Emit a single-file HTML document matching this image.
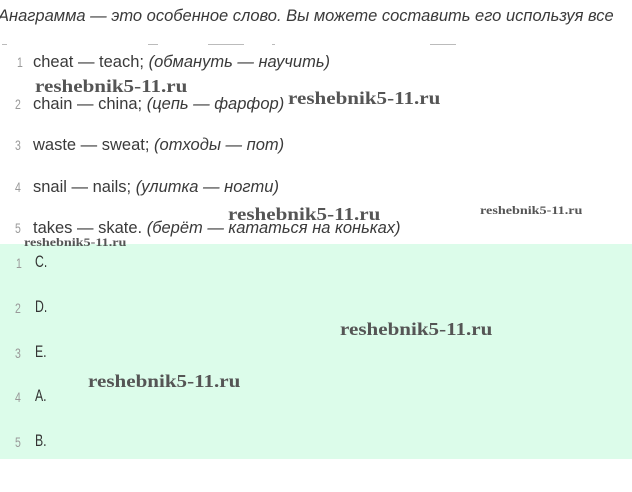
<!DOCTYPE html>
<html><head><meta charset="utf-8"><style>
html,body{margin:0;padding:0;width:632px;height:492px;background:#fff;overflow:hidden;position:relative;font-family:"Liberation Sans",sans-serif;}
.t{position:absolute;white-space:nowrap;color:#3a3a3a;font-size:16.5px;line-height:18px;}
.n{position:absolute;color:#999;font-size:14px;line-height:18px;transform:scaleX(0.75);transform-origin:left;}
i{font-style:italic}
.w{position:absolute;white-space:nowrap;font-family:"Liberation Serif",serif;font-weight:bold;color:#555;font-size:18px;line-height:18px;transform:scaleX(1.17);transform-origin:left;}
.ws{position:absolute;white-space:nowrap;font-family:"Liberation Serif",serif;font-weight:bold;color:#555;font-size:12px;line-height:12px;transform:scaleX(1.18);transform-origin:left;}
.g{position:absolute;left:0;top:244px;width:632px;height:215px;background:#dcfcea;}
.a{position:absolute;color:#333;font-size:17px;line-height:18px;transform:scaleX(0.72);transform-origin:left;}
.d{position:absolute;top:44px;height:1px;background:#bbb;}
</style></head><body>
<div class="t" style="left:-2px;top:7px;font-style:italic;font-size:16.5px">Анаграмма — это особенное слово. Вы можете составить его используя все</div>
<div class="d" style="left:2px;width:5px"></div>
<div class="d" style="left:148px;width:10px"></div>
<div class="d" style="left:208px;width:36px"></div>
<div class="d" style="left:272px;width:3px"></div>
<div class="d" style="left:430px;width:26px"></div>
<div class="n" style="left:17px;top:53px">1</div>
<div class="t" style="left:33px;top:53px">cheat — teach; <i>(обмануть — научить)</i></div>
<div class="w" style="left:35px;top:77px">reshebnik5-11.ru</div>
<div class="n" style="left:15px;top:95px">2</div>
<div class="t" style="left:33px;top:95px">chain — china; <i>(цепь — фарфор)</i></div>
<div class="w" style="left:288px;top:89px">reshebnik5-11.ru</div>
<div class="n" style="left:15px;top:136px">3</div>
<div class="t" style="left:33px;top:136px">waste — sweat; <i>(отходы — пот)</i></div>
<div class="n" style="left:15px;top:178px">4</div>
<div class="t" style="left:33px;top:178px">snail — nails; <i>(улитка — ногти)</i></div>
<div class="w" style="left:228px;top:205px">reshebnik5-11.ru</div>
<div class="ws" style="left:480px;top:204px">reshebnik5-11.ru</div>
<div class="n" style="left:15px;top:219px">5</div>
<div class="t" style="left:33px;top:219px">takes — skate. <i>(берёт — кататься на коньках)</i></div>
<div class="g"></div>
<div class="ws" style="left:24px;top:236px">reshebnik5-11.ru</div>
<div class="n" style="left:16px;top:254px">1</div><div class="a" style="left:35px;top:253px">C.</div>
<div class="n" style="left:15px;top:299px">2</div><div class="a" style="left:35px;top:298px">D.</div>
<div class="w" style="left:340px;top:320px">reshebnik5-11.ru</div>
<div class="n" style="left:15px;top:344px">3</div><div class="a" style="left:35px;top:343px">E.</div>
<div class="w" style="left:88px;top:372px">reshebnik5-11.ru</div>
<div class="n" style="left:15px;top:388px">4</div><div class="a" style="left:35px;top:387px">A.</div>
<div class="n" style="left:15px;top:433px">5</div><div class="a" style="left:35px;top:432px">B.</div>
</body></html>
